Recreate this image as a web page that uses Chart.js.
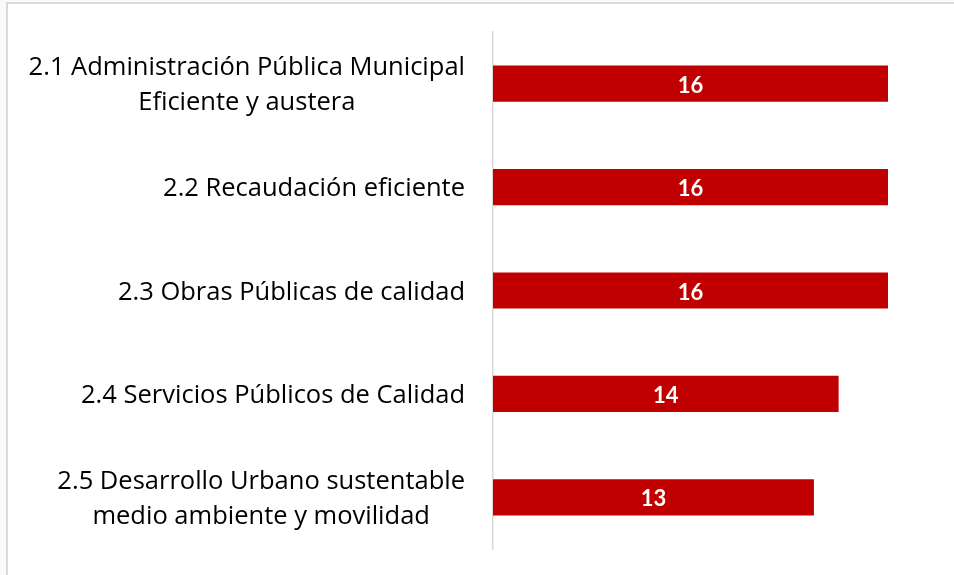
<!DOCTYPE html>
<html>
<head>
<meta charset="utf-8">
<script src="https://cdn.jsdelivr.net/npm/chart.js@4"></script>
<style>
  html, body { margin: 0; padding: 0; background: #fafafa; }
  #frame {
    position: absolute; left: 6px; top: 2px;
    width: 948px; height: 573px;
    border-top: 2px solid #dadada; border-left: 2px solid #dadada;
    background: #fff;
  }
  #frame canvas { display: block; }
</style>
</head>
<body>
<div id="frame"><canvas id="barChart" width="946" height="571"></canvas></div>
<script>
// categories (each entry = lines of the label)
const categories = [
    ['2.1 Administración Pública Municipal', 'Eficiente y austera'],
    ['2.2 Recaudación eficiente'],
    ['2.3 Obras Públicas de calidad'],
    ['2.4 Servicios Públicos de Calidad'],
    ['2.5 Desarrollo Urbano sustentable', 'medio ambiente y movilidad']
];
const values = [16, 16, 16, 14, 13];

const labelFont = '25.5px "Open Sans"';
const valueFont = 'bold 22px Lato';

// draws category labels (lines centered to each other, block right aligned) and value labels
const labelPlugin = {
    id: 'labels',
    afterDatasetsDraw(chart) {
        const ctx = chart.ctx;
        const yScale = chart.scales.y;
        const area = chart.chartArea;

        ctx.save();
        ctx.font = labelFont;
        ctx.fillStyle = '#000';
        ctx.textAlign = 'center';
        ctx.textBaseline = 'middle';
        const lineH = 35;
        categories.forEach((lines, i) => {
            const y = yScale.getPixelForValue(i) + 2;
            const w = Math.max(...lines.map(l => ctx.measureText(l).width));
            const cx = area.left - 28 - w / 2;
            const top = y - (lines.length - 1) * lineH / 2;
            lines.forEach((l, j) => ctx.fillText(l, cx, top + j * lineH));
        });

        ctx.font = valueFont;
        ctx.fillStyle = '#fff';
        chart.getDatasetMeta(0).data.forEach((bar, i) => {
            const p = bar.getProps(['x', 'y', 'base'], true);
            ctx.fillText(values[i], (p.x + p.base) / 2, p.y + 2);
        });
        ctx.restore();
    }
};

const ctx = document.getElementById('barChart').getContext('2d');
const barChart = new Chart(ctx, {
    type: 'bar',
    data: {
        labels: categories,
        datasets: [{
            data: values,
            backgroundColor: '#C00000',
            borderWidth: 0,
            barPercentage: 0.7,
            categoryPercentage: 0.5
        }]
    },
    options: {
        indexAxis: 'y',
        responsive: false,
        animation: false,
        layout: { padding: { top: 28, bottom: 26, right: 66, left: 0 } },
        plugins: { legend: { display: false }, tooltip: { enabled: false } },
        scales: {
            x: { display: false, min: 0, max: 16 },
            y: {
                grid: { display: false, drawTicks: false },
                border: { display: true, color: '#d9d9d9', width: 1.5 },
                ticks: { display: false },
                afterFit: scale => { scale.width = 485; }
            }
        }
    },
    plugins: [labelPlugin]
});
</script>
</body>
</html>
